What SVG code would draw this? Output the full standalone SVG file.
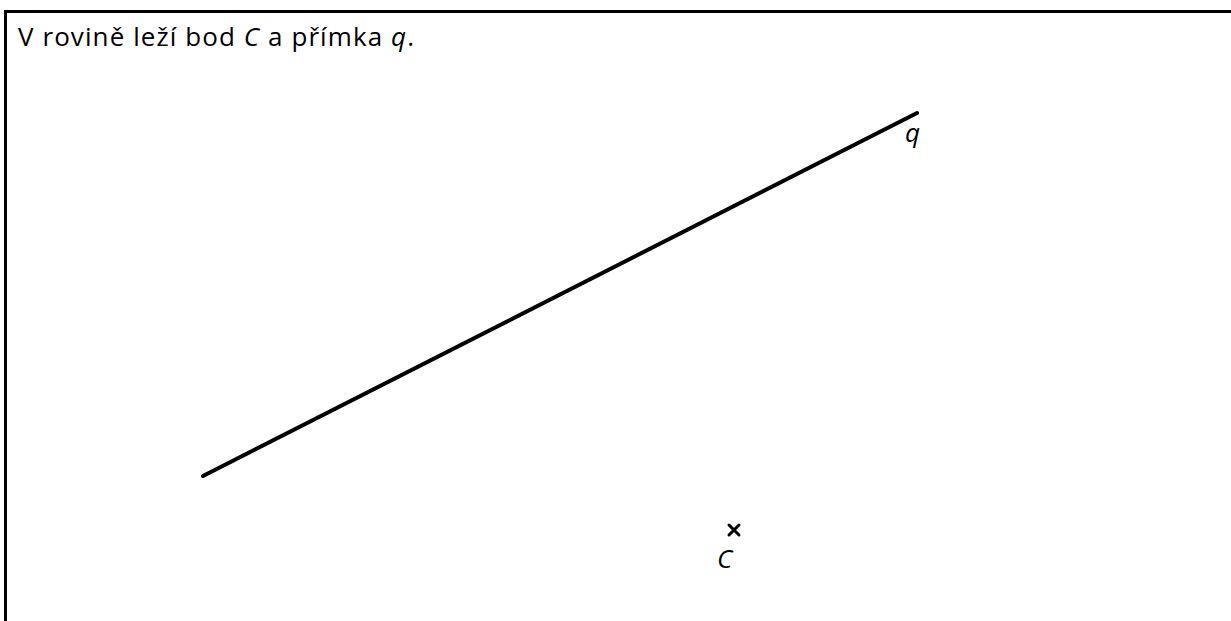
<svg xmlns="http://www.w3.org/2000/svg" width="1231" height="621" viewBox="0 0 1231 621">
<style>
.t{font-family:"Open Sans","Noto Sans",sans-serif;font-size:26px;fill:#000}
.l{font-family:"Open Sans","Noto Sans",sans-serif;font-size:26px;fill:#000}
.i{font-style:italic}
.ln{stroke:#000;stroke-width:4;stroke-linecap:round;fill:none}
</style>
<rect x="0" y="0" width="1231" height="621" fill="#fff"/>
<path d="M5.5 630 V11.5 H1240" stroke="#000" stroke-width="3" fill="none"/>
<text class="t" x="18" y="46" textLength="396" lengthAdjust="spacing">V rovině leží bod <tspan class="i">C</tspan> a přímka <tspan class="i">q</tspan>.</text>
<g id="connectors">
<line id="q" class="ln" x1="203" y1="476" x2="917" y2="113"/>
</g>
<g id="label-q"><text class="l i" x="905" y="142">q</text></g>
<g id="point-C">
<path d="M729 525 L739 535 M739 525 L729 535" stroke="#000" stroke-width="3" stroke-linecap="round"/>
<text class="l i" x="717" y="568">C</text>
</g>
</svg>
